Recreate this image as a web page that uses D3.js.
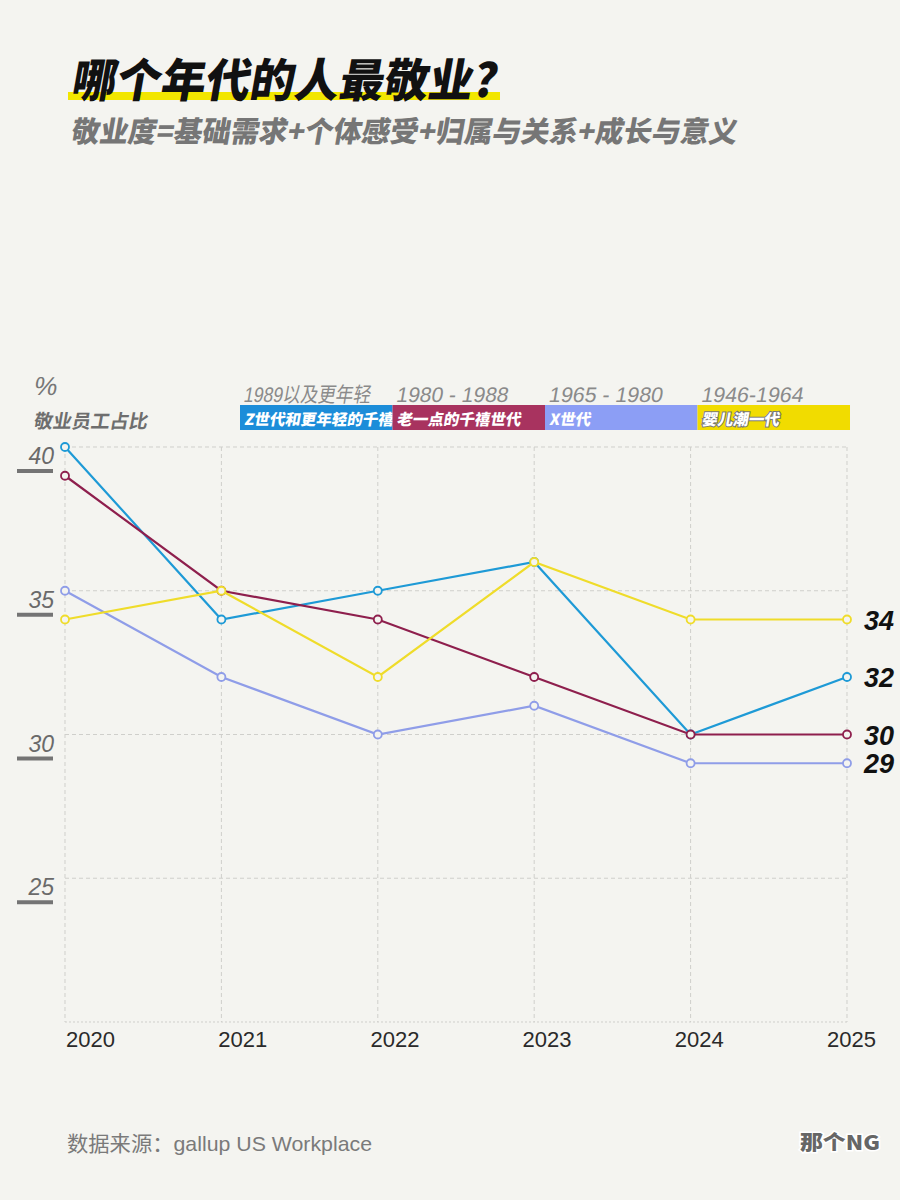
<!DOCTYPE html>
<html>
<head>
<meta charset="utf-8">
<script src="https://cdn.jsdelivr.net/npm/d3@7"></script>
<style>
  body { margin: 0; background: #f4f4f0; }
  svg { display: block; }
</style>
</head>
<body>
<div id="chart"></div>
<script>
// data
const years = [2020, 2021, 2022, 2023, 2024, 2025];
const genZ = [40, 34, 35, 36, 30, 32];
const oldMillennial = [39, 35, 34, 32, 30, 30];
const genX = [35, 32, 30, 31, 29, 29];
const boomers = [34, 35, 32, 36, 34, 34];
const yTicks = [40, 35, 30, 25];

const seriesNames = ["Z世代和更年轻的千禧", "老一点的千禧世代", "X世代", "婴儿潮一代"];
const seriesRanges = ["1989以及更年轻", "1980 - 1988", "1965 - 1980", "1946-1964"];
const rangeWidths = [127, 112, 114, 102];
const lineColors = ["#1e9ad6", "#8e1f4d", "#8f9de8", "#efdc2a"];
const boxColors = ["#1c8dd9", "#a8335f", "#8c9ef5", "#f1dc00"];

const series = [genZ, oldMillennial, genX, boomers];

const width = 900, height = 1200;
const bg = "#f4f4f0";
const cjk = "'Noto Sans CJK SC', sans-serif";
const latin = "'Liberation Sans', 'Noto Sans CJK SC', sans-serif";

const svg = d3.select("#chart").append("svg")
  .attr("width", width)
  .attr("height", height);

svg.append("rect").attr("width", width).attr("height", height).attr("fill", bg);

// Title with yellow highlight
svg.append("rect")
  .attr("x", 68).attr("y", 92).attr("width", 432).attr("height", 8)
  .attr("fill", "#f2e600");

svg.append("text")
  .attr("transform", "translate(70,97) skewX(-10)")
  .attr("font-family", cjk).attr("font-weight", 900)
  .attr("font-size", 46).attr("fill", "#111")
  .attr("textLength", 425).attr("lengthAdjust", "spacingAndGlyphs")
  .text("哪个年代的人最敬业?");

svg.append("text")
  .attr("transform", "translate(70,142) skewX(-10)")
  .attr("font-family", cjk).attr("font-weight", 900)
  .attr("font-size", 29).attr("fill", "#767676")
  .attr("textLength", 666).attr("lengthAdjust", "spacingAndGlyphs")
  .text("敬业度=基础需求+个体感受+归属与关系+成长与意义");

// y axis title
svg.append("text")
  .attr("transform", "translate(33,395) skewX(-10)")
  .attr("font-family", latin).attr("font-size", 26).attr("fill", "#777")
  .text("%");
svg.append("text")
  .attr("transform", "translate(33,428) skewX(-10)")
  .attr("font-family", cjk).attr("font-weight", 700)
  .attr("font-size", 19).attr("fill", "#6e6e6e")
  .text("敬业员工占比");

// scales
const x = d3.scaleLinear().domain([2020, 2025]).range([65, 847]);
const y = d3.scaleLinear().domain([20, 40]).range([1022, 447]);

// grid
const grid = svg.append("g");
grid.selectAll(".hgrid")
  .data(yTicks)
  .join("line")
    .attr("x1", x(2020)).attr("x2", x(2025))
    .attr("y1", d => y(d)).attr("y2", d => y(d))
    .attr("stroke", "#cfcfcb").attr("stroke-width", 1)
    .attr("stroke-dasharray", "4,3");
grid.append("line")
  .attr("x1", x(2020)).attr("x2", x(2025))
  .attr("y1", y(20)).attr("y2", y(20))
  .attr("stroke", "#cfcfcb").attr("stroke-dasharray", "2,2");
grid.selectAll(".vgrid")
  .data(years)
  .join("line")
    .attr("x1", d => x(d)).attr("x2", d => x(d))
    .attr("y1", y(40)).attr("y2", y(20))
    .attr("stroke", "#cfcfcb").attr("stroke-width", 1)
    .attr("stroke-dasharray", "4,3");

// y tick labels with bar underneath
const yt = svg.append("g").selectAll("g")
  .data(yTicks)
  .join("g")
    .attr("transform", d => `translate(0,${y(d)})`);
yt.append("text")
  .attr("x", 54).attr("y", 17)
  .attr("text-anchor", "end")
  .attr("font-family", latin)
  .attr("font-style", "italic")
  .attr("font-size", 23).attr("fill", "#6a6a6a")
  .text(d => d);
yt.append("rect")
  .attr("x", 17).attr("y", 22).attr("width", 36).attr("height", 4)
  .attr("fill", "#747474");

// x labels
svg.append("g").selectAll("text")
  .data(years)
  .join("text")
    .attr("x", (d, i) => x(d) + 1 - i * 4.2)
    .attr("y", 1047)
    .attr("font-family", latin)
    .attr("font-size", 22).attr("fill", "#2a2a2a")
    .attr("textLength", 49).attr("lengthAdjust", "spacingAndGlyphs")
    .text(d => d);

// legend
const legendX = d3.scaleLinear().domain([0, 4]).range([240, 850]);
const leg = svg.append("g").selectAll("g")
  .data(seriesNames)
  .join("g");
leg.append("rect")
  .attr("x", (d, i) => legendX(i))
  .attr("y", 405)
  .attr("width", (d, i) => legendX(i + 1) - legendX(i))
  .attr("height", 25)
  .attr("fill", (d, i) => boxColors[i]);
leg.append("text")
  .attr("transform", (d, i) => `translate(${legendX(i) + 4},425) skewX(-10)`)
  .attr("font-family", cjk).attr("font-weight", 900)
  .attr("font-size", 15.5)
  .attr("fill", "#fff")
  .attr("stroke", (d, i) => i === 3 ? "#777" : "none")
  .attr("stroke-width", 2)
  .attr("paint-order", "stroke")
  .text(d => d);
leg.append("text")
  .attr("transform", (d, i) => `translate(${legendX(i) + 3},402) skewX(-10)`)
  .attr("font-family", latin)
  .attr("font-size", 21).attr("fill", "#8a8a8a")
  .attr("textLength", (d, i) => rangeWidths[i]).attr("lengthAdjust", "spacingAndGlyphs")
  .text((d, i) => seriesRanges[i]);

// lines
const line = d3.line()
  .x((d, i) => x(years[i]))
  .y(d => y(d));

const lines = svg.append("g").selectAll("g")
  .data(series)
  .join("g");
lines.append("path")
  .attr("d", d => line(d))
  .attr("fill", "none")
  .attr("stroke", (d, i) => lineColors[i])
  .attr("stroke-width", 2.2);
lines.each(function(d, i) {
  d3.select(this).selectAll("circle")
    .data(d)
    .join("circle")
      .attr("cx", (v, j) => x(years[j]))
      .attr("cy", v => y(v))
      .attr("r", 4)
      .attr("fill", bg)
      .attr("stroke", lineColors[i])
      .attr("stroke-width", 1.8);
});

// end labels
svg.append("g").selectAll("text")
  .data(series)
  .join("text")
    .attr("x", 864)
    .attr("y", d => y(d[d.length - 1]) + 10)
    .attr("font-family", latin)
    .attr("font-weight", 700).attr("font-style", "italic")
    .attr("font-size", 27).attr("fill", "#111")
    .text(d => d[d.length - 1]);

// footer
svg.append("text")
  .attr("x", 67).attr("y", 1151)
  .attr("font-family", latin)
  .attr("font-size", 21).attr("fill", "#7a7a7a")
  .attr("textLength", 305).attr("lengthAdjust", "spacingAndGlyphs")
  .text("数据来源：gallup US Workplace");

svg.append("text")
  .attr("x", 800).attr("y", 1150)
  .attr("font-family", cjk).attr("font-weight", 900)
  .attr("font-size", 20).attr("fill", "#666")
  .attr("stroke", "#fff").attr("stroke-width", 3)
  .attr("paint-order", "stroke")
  .attr("textLength", 80).attr("lengthAdjust", "spacingAndGlyphs")
  .text("那个NG");
</script>
</body>
</html>
